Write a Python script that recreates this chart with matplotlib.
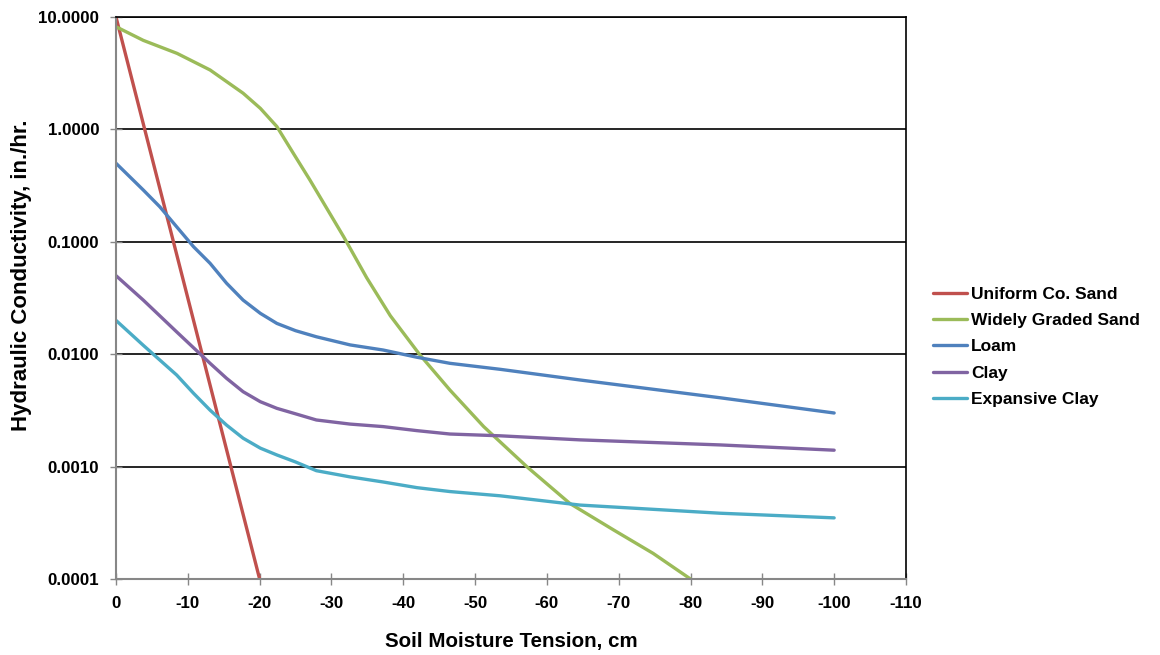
import numpy as np
from matplotlib import pyplot as plt
from matplotlib.ticker import FixedLocator, FormatStrFormatter

plt.rcParams['font.family'] = ['Liberation Sans', 'DejaVu Sans']
plt.rcParams['font.weight'] = 'bold'

# valeurs (tension en cm, conductivite en in./hr.)
sand_x = [0, -20]
sand_y = [10.0, 0.0001]

graded_x = [0, -3.8, -8.5, -13.1, -17.7, -20.1, -22.4, -24.7, -27.0, -31.7, -34.9, -38.2,
            -42.3, -46.5, -51.2, -57.2, -63.2, -69.3, -74.8, -80.0]
graded_y = [8.2, 6.2, 4.75, 3.38, 2.1, 1.54, 1.06, 0.612, 0.355, 0.111, 0.048, 0.022,
            0.0099, 0.0048, 0.00227, 0.0010, 0.00047, 0.000273, 0.000169, 0.0001]

loam_x = [0, -3.8, -6.1, -8.45, -10.8, -13.1, -15.4, -17.7, -20.1, -22.4, -25.0, -27.9,
          -32.6, -37.2, -41.9, -46.5, -53.5, -64.6, -84.1, -100]
loam_y = [0.5, 0.289, 0.205, 0.136, 0.0904, 0.0644, 0.0428, 0.0303, 0.0231, 0.0188, 0.0162,
          0.0143, 0.0121, 0.0109, 0.0094, 0.0083, 0.00734, 0.0059, 0.0041, 0.003]

clay_x = [0, -3.8, -8.45, -13.1, -15.4, -17.7, -20.1, -22.4, -25.0, -27.9, -32.6, -37.2,
          -41.9, -46.5, -53.5, -64.6, -84.1, -100]
clay_y = [0.05, 0.0303, 0.0158, 0.0083, 0.0061, 0.00464, 0.00378, 0.0033, 0.00295, 0.0026,
          0.00239, 0.00227, 0.00209, 0.00195, 0.00188, 0.00173, 0.00156, 0.0014]

exp_x = [0, -3.8, -8.45, -10.8, -13.1, -15.4, -17.7, -20.1, -22.4, -25.0, -27.9, -32.6,
         -37.2, -41.9, -46.5, -53.5, -64.6, -84.1, -100]
exp_y = [0.02, 0.012, 0.00653, 0.00449, 0.00318, 0.00234, 0.00179, 0.00146, 0.00127, 0.0011,
         0.00092, 0.00081, 0.00073, 0.00065, 0.0006, 0.00055, 0.000455, 0.000385, 0.00035]

series = [
    ('Uniform Co. Sand', sand_x, sand_y, '#C0504D'),
    ('Widely Graded Sand', graded_x, graded_y, '#9BBB59'),
    ('Loam', loam_x, loam_y, '#4F81BD'),
    ('Clay', clay_x, clay_y, '#8064A2'),
    ('Expansive Clay', exp_x, exp_y, '#4BACC6'),
]

fig = plt.figure(figsize=(11.6, 6.55), dpi=100)
ax = fig.add_axes([0.1, 0.116, 0.681, 0.858])

for nom, xs, ys, couleur in series:
    ax.plot(xs, ys, color=couleur, lw=2.4, label=nom, solid_capstyle='round',
            solid_joinstyle='round')

ax.set_yscale('log')
ax.set_ylim(0.0001, 10)
ax.set_xlim(0, -110)
ax.xaxis.set_major_locator(FixedLocator(np.arange(0, -111, -10)))
ax.yaxis.set_major_locator(FixedLocator([0.0001, 0.001, 0.01, 0.1, 1, 10]))
ax.yaxis.set_minor_locator(FixedLocator([]))
ax.yaxis.set_major_formatter(FormatStrFormatter('%.4f'))
ax.set_xticklabels([str(v) for v in range(0, -111, -10)])

ax.grid(axis='y', color='black', lw=1.2)
ax.set_axisbelow(True)

for cote in ['left', 'bottom']:
    ax.spines[cote].set_color('#878787')
    ax.spines[cote].set_linewidth(1.5)
for cote in ['top', 'right']:
    ax.spines[cote].set_color('black')
    ax.spines[cote].set_linewidth(1.2)

ax.tick_params(axis='both', direction='inout', length=8, width=1, color='#878787',
               labelsize=12.2)
ax.tick_params(axis='x', pad=8)
ax.tick_params(axis='y', pad=8)

ax.set_xlabel('Soil Moisture Tension, cm', fontsize=14.8, fontweight='bold', labelpad=15)
ax.set_ylabel('Hydraulic Conductivity, in./hr.', fontsize=16, fontweight='bold')
ax.yaxis.set_label_coords(-0.106, 0.54)

leg = ax.legend(loc='center left', bbox_to_anchor=(1.014, 0.413), frameon=False,
                fontsize=12.5, handlelength=2.0, handletextpad=0.23, labelspacing=0.63)

plt.savefig('out.png', dpi=100)
